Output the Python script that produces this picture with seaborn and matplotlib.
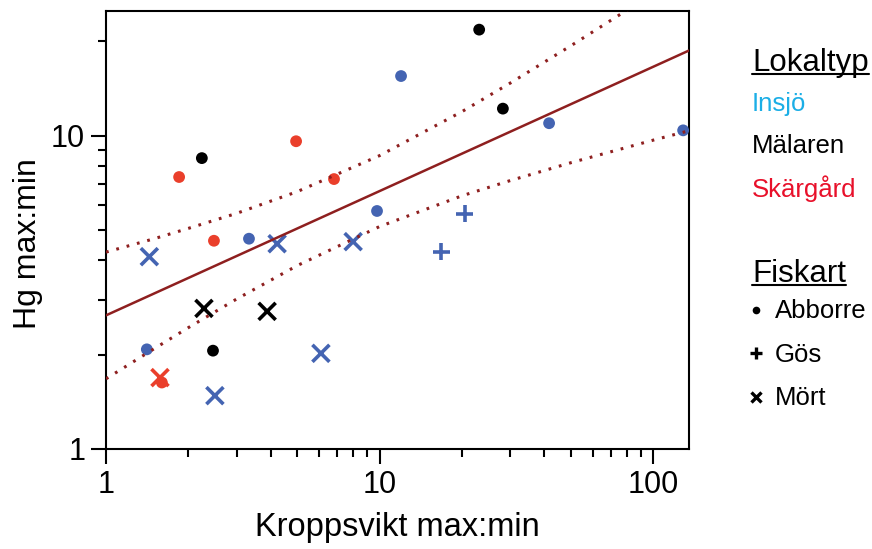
import numpy as np
import pandas as pd
import matplotlib
matplotlib.use("Agg")
import matplotlib.pyplot as plt
import seaborn as sns
from matplotlib.ticker import LogLocator, NullFormatter
from matplotlib.lines import Line2D

# ---------------- data ----------------
lokaltyp = ["Insjö"] * 13 + ["Mälaren"] * 6 + ["Skärgård"] * 6
fiskart = (["Abborre"] * 6 + ["Mört"] * 5 + ["Gös"] * 2 +
           ["Abborre"] * 4 + ["Mört"] * 2 +
           ["Abborre"] * 5 + ["Mört"] * 1)
kroppsvikt = [1.41, 3.33, 9.78, 11.97, 41.6, 128.5,
              1.44, 4.22, 8.0, 6.1, 2.5,
              16.8, 20.5,
              2.24, 2.46, 23.1, 28.2,
              2.28, 3.88,
              1.85, 2.48, 4.95, 6.81, 1.6,
              1.575]
hg = [2.08, 4.69, 5.75, 15.5, 10.96, 10.4,
      4.11, 4.52, 4.59, 2.02, 1.48,
      4.26, 5.63,
      8.48, 2.06, 21.8, 12.2,
      2.81, 2.75,
      7.38, 4.62, 9.6, 7.27, 1.63,
      1.69]

# regression line and its confidence band
fit_x = [1, 135]
fit_y = [2.67, 18.7]
ci_x = [1, 1.5, 2, 3, 5, 10, 20, 30, 50, 100, 135]
ci_upper = [4.25, 4.69, 5.06, 5.65, 6.63, 8.64, 11.94, 14.72, 19.37, 28.46, 33.68]
ci_lower = [1.675, 2.09, 2.44, 3.01, 3.85, 5.13, 6.43, 7.19, 8.20, 9.68, 10.37]

x_ticks = [1, 10, 100]
x_ticklabels = ["1", "10", "100"]
y_ticks = [1, 10]
y_ticklabels = ["1", "10"]

lok_order = ["Insjö", "Mälaren", "Skärgård"]
fisk_order = ["Abborre", "Gös", "Mört"]

df = pd.DataFrame({"Lokaltyp": lokaltyp, "Fiskart": fiskart,
                   "Kroppsvikt": kroppsvikt, "Hg": hg})
fit_df = pd.DataFrame({"x": fit_x, "y": fit_y})
ci_df = pd.DataFrame({"x": ci_x, "upper": ci_upper, "lower": ci_lower})

# ---------------- style ----------------
sns.set_style("ticks")
plt.rcParams["font.family"] = ["Liberation Sans", "DejaVu Sans"]
for k in ["text.color", "axes.labelcolor", "xtick.color", "ytick.color",
          "xtick.labelcolor", "ytick.labelcolor"]:
    plt.rcParams[k] = "black"

marker_palette = {"Insjö": "#4464B2", "Mälaren": "#000000", "Skärgård": "#EA3F2B"}
text_palette = {"Insjö": "#1BAEE6", "Mälaren": "#000000", "Skärgård": "#E8102A"}
line_color = "#8E1F1F"

W, H = 872, 549
fig = plt.figure(figsize=(W / 100, H / 100), dpi=100)
ax = fig.add_axes([106 / W, 1 - 449 / H, (689 - 106) / W, (449 - 11) / H])

# ---------------- points ----------------
sns.scatterplot(data=df[df.Fiskart == "Abborre"], x="Kroppsvikt", y="Hg",
                hue="Lokaltyp", palette=marker_palette, hue_order=lok_order,
                marker="o", s=72, linewidth=0, legend=False, ax=ax, zorder=3)
sns.scatterplot(data=df[df.Fiskart == "Gös"], x="Kroppsvikt", y="Hg",
                hue="Lokaltyp", palette=marker_palette, hue_order=lok_order,
                marker="+", s=150, linewidth=2.6, legend=False, ax=ax, zorder=3)
sns.scatterplot(data=df[df.Fiskart == "Mört"], x="Kroppsvikt", y="Hg",
                hue="Lokaltyp", palette=marker_palette, hue_order=lok_order,
                marker="x", s=150, linewidth=2.6, legend=False, ax=ax, zorder=3)

# ---------------- regression + CI ----------------
sns.lineplot(data=fit_df, x="x", y="y", color=line_color, linewidth=1.8,
             ax=ax, zorder=4)
for col in ["upper", "lower"]:
    sns.lineplot(data=ci_df, x="x", y=col, color=line_color, linewidth=2.2,
                 linestyle=(0, (0.9, 2.6)), ax=ax, zorder=4)

# ---------------- axes ----------------
ax.set_xscale("log")
ax.set_yscale("log")
ax.set_xlim(1, 135)
ax.set_ylim(1, 25)
ax.set_xticks(x_ticks, labels=x_ticklabels)
ax.set_yticks(y_ticks, labels=y_ticklabels)
ax.xaxis.set_minor_locator(LogLocator(base=10, subs=np.arange(2, 10)))
ax.yaxis.set_minor_locator(LogLocator(base=10, subs=np.arange(2, 10)))
ax.xaxis.set_minor_formatter(NullFormatter())
ax.yaxis.set_minor_formatter(NullFormatter())
ax.tick_params(which="major", direction="out", length=11, width=1.5,
               labelsize=22, color="black", labelcolor="black", pad=4)
ax.tick_params(which="minor", direction="out", length=6, width=1.5,
               color="black")
for sp in ax.spines.values():
    sp.set_visible(True)
    sp.set_color("black")
    sp.set_linewidth(1.5)


def fx(px):
    return px / W


def fy(py):
    return 1 - py / H


ax.set_xlabel("Kroppsvikt max:min", fontsize=23.5, labelpad=9, color="black")
ax.set_ylabel("Hg max:min", fontsize=23, color="black")
ax.yaxis.set_label_coords(fx(28), fy(244), transform=fig.transFigure)
ax.yaxis.label.set_horizontalalignment("center")
ax.yaxis.label.set_verticalalignment("center")

# ---------------- custom legend ----------------
fig.canvas.draw()
renderer = fig.canvas.get_renderer()


def underlined(txt, x, baseline, size, uline_y):
    t = fig.text(fx(x), fy(baseline), txt, fontsize=size, ha="left",
                 va="baseline", color="black")
    bb = t.get_window_extent(renderer=renderer)
    fig.add_artist(Line2D([bb.x0 / W, bb.x1 / W], [fy(uline_y), fy(uline_y)],
                          transform=fig.transFigure, color="black",
                          linewidth=1.5))


underlined("Lokaltyp", 752, 71, 22.5, 74)
for name, base in zip(lok_order, [111, 153, 197]):
    fig.text(fx(752), fy(base), name, fontsize=18.5, ha="left", va="baseline",
             color=text_palette[name])

underlined("Fiskart", 752, 282, 22.5, 285)
leg_markers = {"Abborre": ("o", 5.5, 0), "Gös": ("+", 8, 2.4), "Mört": ("x", 7, 2.4)}
for name, base, my in zip(fisk_order, [318, 362, 405], [310, 353, 397]):
    m, ms, mew = leg_markers[name]
    fig.add_artist(Line2D([fx(756)], [fy(my)], transform=fig.transFigure,
                          marker=m, markersize=ms, markeredgewidth=mew,
                          color="black", linestyle="none"))
    fig.text(fx(775), fy(base), name, fontsize=18.5, ha="left", va="baseline",
             color="black")

fig.savefig("out.png", dpi=100)
